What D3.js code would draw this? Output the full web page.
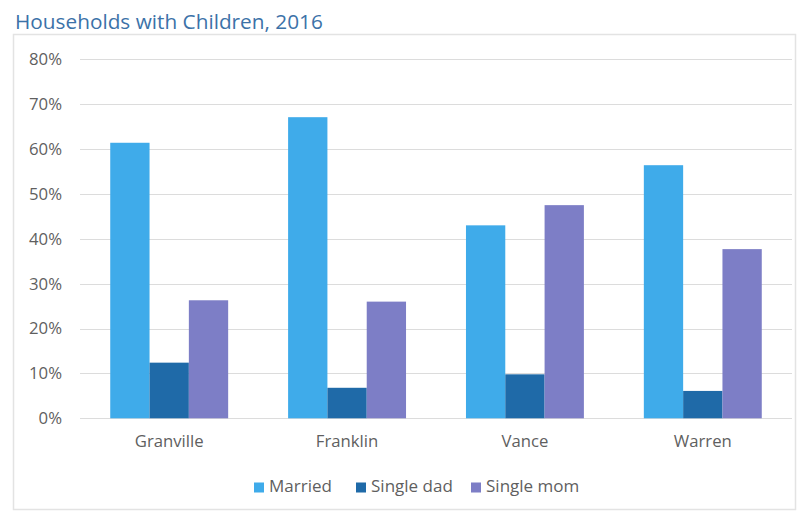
<!DOCTYPE html>
<html>
<head>
<meta charset="utf-8">
<script src="https://cdn.jsdelivr.net/npm/d3@7/dist/d3.min.js"></script>
<style>
  body { margin: 0; background: #fff; }
  svg { display: block; }
  text { font-family: "Open Sans", sans-serif; }
</style>
</head>
<body>
<svg id="chart" width="799" height="515"></svg>
<script>
// Households with children by county, share of each family type
const counties = ["Granville", "Franklin", "Vance", "Warren"];
const seriesNames = ["Married", "Single dad", "Single mom"];
const married   = [61.4, 67.1, 43.0, 56.4];
const singleDad = [12.4, 6.8, 9.8, 6.1];
const singleMom = [26.3, 26.0, 47.5, 37.7];
const yTicks = [0, 10, 20, 30, 40, 50, 60, 70, 80];
const colors = ["#3fabea", "#1f6aa8", "#7d7ec6"];

const seriesValues = [married, singleDad, singleMom];
const rows = counties.map((c, i) => ({
  county: c,
  values: seriesNames.map((s, j) => ({ key: s, value: seriesValues[j][i], idx: j }))
}));

const svg = d3.select("#chart");
const W = 799, H = 515;

// scale a text's font size so it spans the given width
function fitWidth(sel, width) {
  const node = sel.node();
  const base = parseFloat(sel.attr("font-size"));
  const w = node.getComputedTextLength();
  const size = base * width / w;
  return size;
}

// outer frame
svg.append("rect").attr("x", 13.5).attr("y", 34.5).attr("width", W - 17).attr("height", H - 40)
  .attr("fill", "none").attr("stroke", "#e3e3e3").attr("stroke-width", 1.5);

const title = svg.append("text").attr("x", 15).attr("y", 29)
  .attr("font-size", 18).attr("fill", "#3c72a8")
  .text("Households with Children, 2016");
title.attr("font-size", fitWidth(title, 308));

const margin = { left: 80, right: 7, top: 59.3, bottom: 96.7 };
const x0 = d3.scaleBand().domain(counties)
  .range([margin.left, W - margin.right]).paddingInner(0.337).paddingOuter(0.17);
const x1 = d3.scaleBand().domain(seriesNames).range([0, x0.bandwidth()]);
const y = d3.scaleLinear().domain([0, 80]).range([H - margin.bottom, margin.top]);

// gridlines
svg.append("g").selectAll("line").data(yTicks).join("line")
  .attr("x1", margin.left).attr("x2", W - margin.right)
  .attr("y1", d => Math.round(y(d)) + 0.5).attr("y2", d => Math.round(y(d)) + 0.5)
  .attr("stroke", "#dcdcdc").attr("stroke-width", 1);

// y axis labels
const yAxis = d3.axisLeft(y).tickValues(yTicks).tickFormat(d => d + "%").tickSize(0).tickPadding(0);
const ya = svg.append("g").attr("transform", `translate(62,0)`).call(yAxis);
ya.select(".domain").remove();
ya.attr("font-family", null).attr("font-size", null);
ya.selectAll("text").attr("font-size", 13).attr("fill", "#5f5f5f")
  .style("font-family", "'Open Sans', sans-serif");
const t80 = ya.selectAll("text").filter(d => d === 80);
ya.selectAll("text").attr("font-size", fitWidth(t80, 33));

// bars
svg.append("g").selectAll("g").data(rows).join("g")
  .attr("transform", d => `translate(${x0(d.county)},0)`)
  .selectAll("rect").data(d => d.values).join("rect")
  .attr("x", d => x1(d.key))
  .attr("width", x1.bandwidth())
  .attr("y", d => y(d.value))
  .attr("height", d => y(0) - y(d.value))
  .attr("fill", d => colors[d.idx]);

// category axis labels
const xAxis = d3.axisBottom(x0).tickSize(0).tickPadding(0);
const xa = svg.append("g").attr("transform", `translate(0,${H - margin.bottom + 17})`).call(xAxis);
xa.select(".domain").remove();
xa.attr("font-family", null).attr("font-size", null);
xa.selectAll("text").attr("font-size", 14).attr("fill", "#5f5f5f")
  .style("font-family", "'Open Sans', sans-serif");
const tG = xa.selectAll("text").filter(d => d === "Granville");
xa.selectAll("text").attr("font-size", fitWidth(tG, 69));

// legend
const legendX = [254, 356, 471];
const lg = svg.append("g").selectAll("g").data(seriesNames).join("g")
  .attr("transform", (d, i) => `translate(${legendX[i]},492)`);
lg.append("rect").attr("x", 0).attr("y", -9.5).attr("width", 10).attr("height", 10)
  .attr("fill", (d, i) => colors[i]);
const lt = lg.append("text").attr("x", 15).attr("y", 0).attr("font-size", 14).attr("fill", "#5f5f5f")
  .text(d => d);
lt.attr("font-size", fitWidth(lt.filter(d => d === "Married"), 63));
</script>
</body>
</html>
